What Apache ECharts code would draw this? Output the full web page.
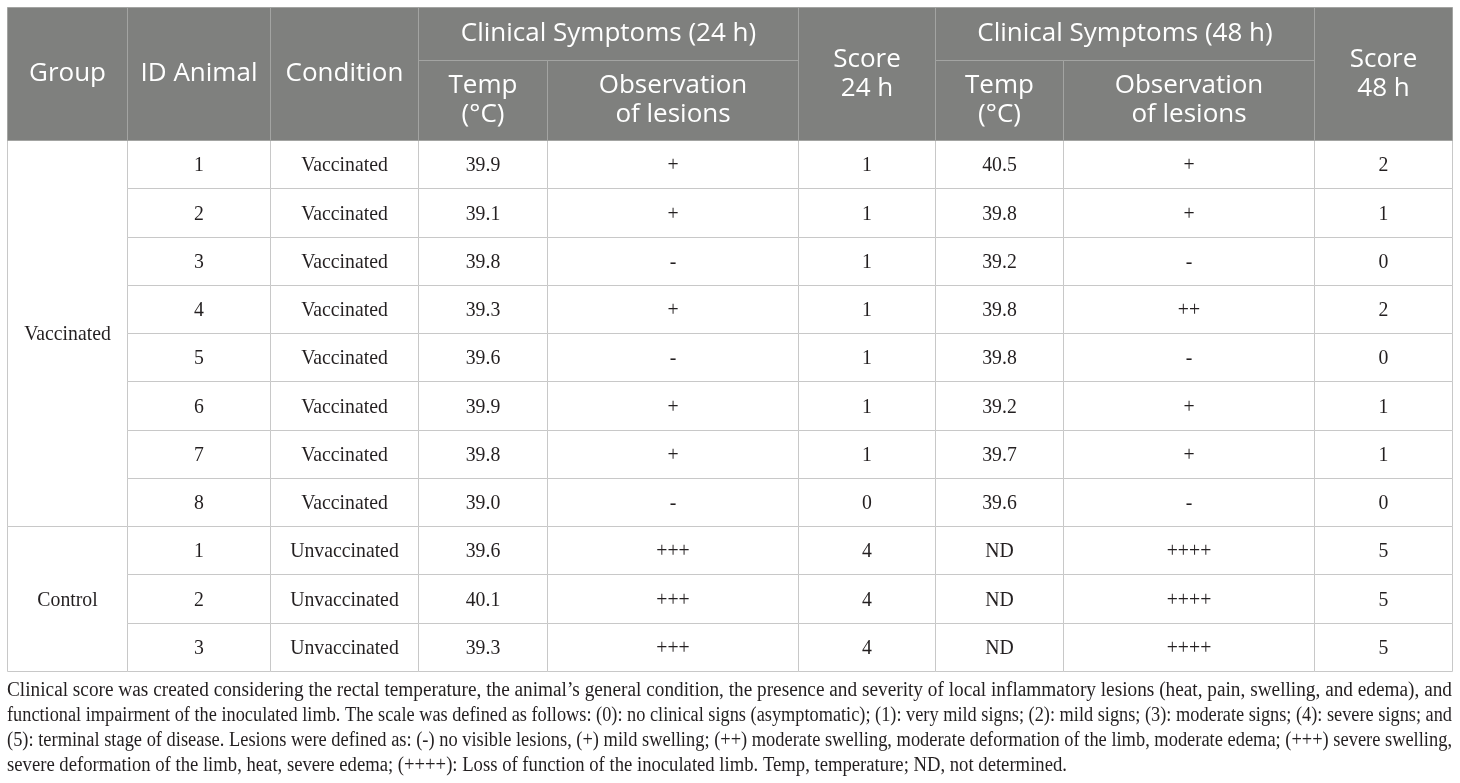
<!DOCTYPE html>
<html>
<head>
<meta charset="utf-8">
<script src="https://cdn.jsdelivr.net/npm/echarts@6/dist/echarts.min.js"></script>
<style>
  html, body { margin: 0; padding: 0; background: #fff; }
  #main { width: 1460px; height: 783px; }
</style>
</head>
<body>
<div id="main"></div>
<script>
// table data
var headTop = ['Group', 'ID Animal', 'Condition', 'Clinical Symptoms (24 h)', 'Score\n24 h', 'Clinical Symptoms (48 h)', 'Score\n48 h'];
var headSub = ['Temp\n(°C)', 'Observation\nof lesions'];
var animalGroup = ['Vaccinated', 'Vaccinated', 'Vaccinated', 'Vaccinated', 'Vaccinated', 'Vaccinated', 'Vaccinated', 'Vaccinated', 'Control', 'Control', 'Control'];
var animalIds = [1, 2, 3, 4, 5, 6, 7, 8, 1, 2, 3];
var conditions = ['Vaccinated', 'Vaccinated', 'Vaccinated', 'Vaccinated', 'Vaccinated', 'Vaccinated', 'Vaccinated', 'Vaccinated', 'Unvaccinated', 'Unvaccinated', 'Unvaccinated'];
var temp24 = [39.9, 39.1, 39.8, 39.3, 39.6, 39.9, 39.8, 39.0, 39.6, 40.1, 39.3];
var lesions24 = ['+', '+', '-', '+', '-', '+', '+', '-', '+++', '+++', '+++'];
var score24 = [1, 1, 1, 1, 1, 1, 1, 0, 4, 4, 4];
var temp48 = [40.5, 39.8, 39.2, 39.8, 39.8, 39.2, 39.7, 39.6, null, null, null];
var lesions48 = ['+', '+', '-', '++', '-', '+', '+', '-', '++++', '++++', '++++'];
var score48 = [2, 1, 0, 2, 0, 1, 1, 0, 5, 5, 5];
var footnote = [
    'Clinical score was created considering the rectal temperature, the animal\u2019s general condition, the presence and severity of local inflammatory lesions (heat, pain, swelling, and edema), and',
    'functional impairment of the inoculated limb. The scale was defined as follows: (0): no clinical signs (asymptomatic); (1): very mild signs; (2): mild signs; (3): moderate signs; (4): severe signs; and',
    '(5): terminal stage of disease. Lesions were defined as: (-) no visible lesions, (+) mild swelling; (++) moderate swelling, moderate deformation of the limb, moderate edema; (+++) severe swelling,',
    'severe deformation of the limb, heat, severe edema; (++++): Loss of function of the inoculated limb. Temp, temperature; ND, not determined.'
];

// layout
var colX = [7, 127, 270, 418, 547, 798, 935, 1063, 1314, 1452];
var headY = [7, 60, 140];
var rowH = 48.27;
var noteY = [691, 716, 741, 766];
var headFont = '26px "Open Sans"';
var bodyFont = '21px "Liberation Serif"';
var bodySquash = 0.94;
var noteFont = '20px "Liberation Serif"';

function rowY(i) { return headY[2] + i * rowH; }
function fmt(v) { return v === null ? 'ND' : v.toFixed(1); }

var cells = [];
function addCell(c0, c1, y0, y1, text, head) {
    cells.push({ value: [colX[c0], colX[c1], y0, y1], text: text, head: head });
}

// body
var n = animalIds.length;
var start = 0;
for (var i = 1; i <= n; i++) {
    if (i === n || animalGroup[i] !== animalGroup[start]) {
        addCell(0, 1, rowY(start), rowY(i), animalGroup[start], false);
        start = i;
    }
}
for (var r = 0; r < n; r++) {
    var vals = [animalIds[r], conditions[r], fmt(temp24[r]), lesions24[r], score24[r], fmt(temp48[r]), lesions48[r], score48[r]];
    for (var c = 0; c < vals.length; c++) {
        addCell(c + 1, c + 2, rowY(r), rowY(r + 1), String(vals[c]), false);
    }
}
// header
addCell(0, 1, headY[0], headY[2], headTop[0], true);
addCell(1, 2, headY[0], headY[2], headTop[1], true);
addCell(2, 3, headY[0], headY[2], headTop[2], true);
addCell(3, 5, headY[0], headY[1], headTop[3], true);
addCell(3, 4, headY[1], headY[2], headSub[0], true);
addCell(4, 5, headY[1], headY[2], headSub[1], true);
addCell(5, 6, headY[0], headY[2], headTop[4], true);
addCell(6, 8, headY[0], headY[1], headTop[5], true);
addCell(6, 7, headY[1], headY[2], headSub[0], true);
addCell(7, 8, headY[1], headY[2], headSub[1], true);
addCell(8, 9, headY[0], headY[2], headTop[6], true);

function renderItem(params, api) {
    var cell = cells[params.dataIndex];
    var p0 = api.coord([api.value(0), api.value(2)]);
    var p1 = api.coord([api.value(1), api.value(3)]);
    var x0 = Math.round(p0[0]) + 0.5, y0 = Math.round(p0[1]) + 0.5;
    var x1 = Math.round(p1[0]) + 0.5, y1 = Math.round(p1[1]) + 0.5;
    return {
        type: 'group',
        children: [{
            type: 'rect',
            shape: { x: x0, y: y0, width: x1 - x0, height: y1 - y0 },
            style: {
                fill: cell.head ? '#7f807e' : '#fff',
                stroke: cell.head ? '#a3a4a2' : '#c8c8c8',
                lineWidth: 1
            }
        }, {
            type: 'text',
            x: (x0 + x1) / 2,
            y: (y0 + y1) / 2 + (cell.head ? 0 : 1),
            scaleX: cell.head ? 1 : bodySquash,
            style: {
                text: cell.text,
                align: 'center',
                verticalAlign: 'middle',
                font: cell.head ? headFont : bodyFont,
                lineHeight: cell.head ? 29 : 22,
                fill: cell.head ? '#fff' : '#231f20'
            }
        }]
    };
}

// footnote, squeezed to the table width like the justified original
var ctx = document.createElement('canvas').getContext('2d');
ctx.font = noteFont;
var noteW = colX[colX.length - 1] - colX[0];
var scales = footnote.map(function (t) { return noteW / ctx.measureText(t).width; });
var lastScale = (scales[0] + scales[1] + scales[2]) / 3;
var noteEls = footnote.map(function (t, i) {
    return {
        type: 'text',
        x: colX[0],
        y: noteY[i],
        scaleX: i === footnote.length - 1 ? lastScale : scales[i],
        style: { text: t, font: noteFont, fill: '#231f20', verticalAlign: 'middle' }
    };
});

var chart = echarts.init(document.getElementById('main'));
var option = {
    animation: false,
    grid: { left: 0, right: 0, top: 0, bottom: 0 },
    xAxis: { type: 'value', min: 0, max: 1460, show: false },
    yAxis: { type: 'value', min: 0, max: 783, inverse: true, show: false },
    series: [{
        type: 'custom',
        renderItem: renderItem,
        encode: { x: [0, 1], y: [2, 3] },
        clip: false,
        silent: true,
        data: cells.map(function (d) { return d.value; })
    }],
    graphic: noteEls
};
chart.setOption(option);
</script>
</body>
</html>
